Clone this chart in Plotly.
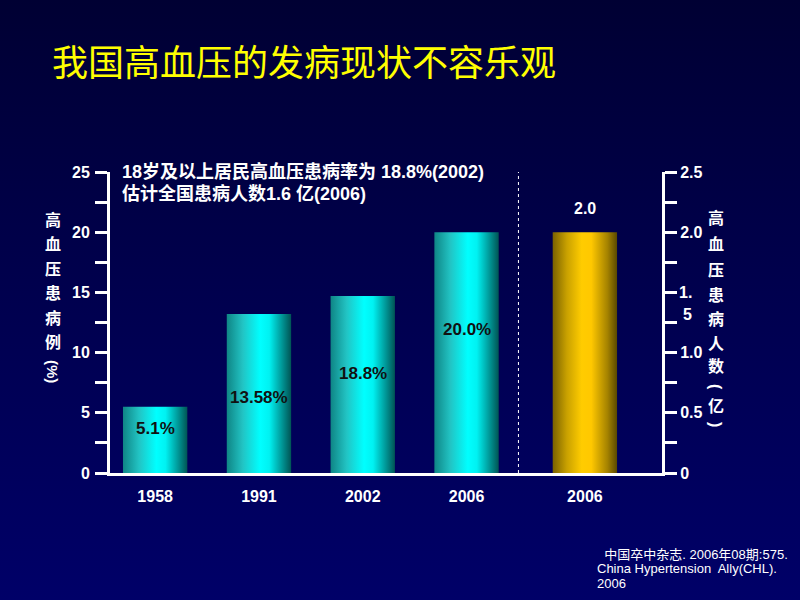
import base64
import plotly.graph_objects as go

# ---------------- data ----------------
categories = ["1958", "1991", "2002", "2006"]
prevalence = [5.5, 13.2, 14.7, 20.0]            # bar heights (%)
prevalence_labels = ["5.1%", "13.58%", "18.8%", "20.0%"]
label_y = [3.7, 6.3, 8.3, 11.95]                 # where the in-bar labels sit (%)
patients_category = ["2006"]
patients = [2.0]                                 # 亿
patients_labels = ["2.0"]

left_ticks = [0, 2.5, 5, 7.5, 10, 12.5, 15, 17.5, 20, 22.5, 25]
left_ticktext = ["0", "", "5", "", "10", "", "15", "", "20", "", "25"]
right_ticks = [0, 0.25, 0.5, 0.75, 1.0, 1.25, 1.5, 1.75, 2.0, 2.25, 2.5]
right_ticktext = ["0", "", "0.5", "", "1.0", "", "", "", "2.0", "", "2.5"]
split_tick_value = 1.5
split_tick_parts = ["1.", "5"]

title_text = "我国高血压的发病现状不容乐观"
note_lines = ["18岁及以上居民高血压患病率为 18.8%(2002)", "估计全国患病人数1.6 亿(2006)"]
left_title_chars = ["高", "血", "压", "患", "病", "例"]
right_title_chars = ["高", "血", "压", "患", "病", "人", "数", "(", "亿", ")"]
right_title_rotated = [False, False, False, False, False, False, False, True, False, True]
source_lines = ["  中国卒中杂志. 2006年08期:575.", "China Hypertension  Ally(CHL).", "2006"]

# ---------------- layout constants ----------------
W, H = 800, 600
ML, MR, MT, MB = 110, 138, 172, 127
PW, PH = W - ML - MR, H - MT - MB
BAR_HALF = 0.31
left_pos = list(range(len(categories)))
right_pos = [4.14]
divider_x = 3.5
x_range = [-0.435, 4.883]

def px(x):
    return (x - ML) / PW

def py(y):
    return (H - MB - y) / PH

teal_scale = [[0, "#0f8585"], [0.25, "#22c4c4"], [0.52, "#00ffff"], [0.66, "#00f2f2"],
              [0.85, "#009a9a"], [1, "#005454"]]
gold_scale = [[0, "#7a6200"], [0.22, "#c9a100"], [0.45, "#ffcc00"], [0.6, "#ffc800"],
              [0.85, "#a58300"], [1, "#5a4800"]]

fig = go.Figure()

def add_bar(xc, val, scale, yaxis):
    xs = [xc - BAR_HALF, xc + BAR_HALF, xc + BAR_HALF, xc - BAR_HALF, xc - BAR_HALF]
    ys = [0, 0, val, val, 0]
    fig.add_trace(go.Scatter(
        x=xs, y=ys, mode="lines", fill="toself", yaxis=yaxis,
        line=dict(width=0, color="rgba(0,0,0,0)"),
        fillgradient=dict(type="horizontal", colorscale=scale),
        hoverinfo="skip", showlegend=False))

for xc, v in zip(left_pos, prevalence):
    add_bar(xc, v, teal_scale, "y")
for xc, v in zip(right_pos, patients):
    add_bar(xc, v, gold_scale, "y2")

annotations = []

def ann(x, y, text, size, color="white", family="Noto Sans CJK SC", bold=True,
        xanchor="center", yanchor="middle", **kw):
    annotations.append(dict(x=x, y=y, xref=kw.pop("xref", "paper"), yref=kw.pop("yref", "paper"),
                            text=text, showarrow=False, xanchor=xanchor, yanchor=yanchor,
                            font=dict(family=family, size=size, color=color,
                                      weight="bold" if bold else "normal"), **kw))

# labels inside teal bars
for xc, ly, t in zip(left_pos, label_y, prevalence_labels):
    ann(xc, ly, t, 17, color="#111111", family="Liberation Sans, Arial", xref="x", yref="y")
# label above gold bar
for xc, v, t in zip(right_pos, patients, patients_labels):
    ann(xc, v, t, 16, family="Liberation Sans, Arial", xref="x", yref="y2",
        yanchor="bottom", yshift=13)

# title
ann(px(50), py(60), title_text, 36, color="#ffff00", bold=False, xanchor="left")
# note text
for i, line in enumerate(note_lines):
    ann(px(120), py(171.5 + i * 21.5), line, 18, family="Liberation Sans, Noto Sans CJK SC",
        xanchor="left")
# left axis title
for i, ch in enumerate(left_title_chars):
    ann(px(53), py(219 + i * 24.4), ch, 16)
ann(px(53), py(371), "(%)", 15, family="Liberation Sans, Arial", textangle=90)
# right axis title
right_y = [217, 243, 269, 294, 318, 342, 365, 387, 405, 424]
for ch, yy, rot in zip(right_title_chars, right_y, right_title_rotated):
    if rot:
        ann(px(716), py(yy), ch, 16, family="Liberation Sans, Arial", textangle=90)
    else:
        ann(px(716), py(yy), ch, 16)
# split tick label 1.5 on right axis
for i, part in enumerate(split_tick_parts):
    ann(px(694), split_tick_value, part, 16, family="Liberation Sans, Arial", xanchor="right",
        yref="y2", yshift=-22 * i)
# source
for i, line in enumerate(source_lines):
    ann(px(595), py(554 + i * 14.8), line, 13, family="Liberation Sans, Noto Sans CJK SC",
        bold=False, xanchor="left")

svg = ("<svg xmlns='http://www.w3.org/2000/svg' width='800' height='600'>"
       "<defs><linearGradient id='g' x1='0' y1='0' x2='0' y2='1'>"
       "<stop offset='0' stop-color='#000033'/><stop offset='0.45' stop-color='#00004c'/>"
       "<stop offset='1' stop-color='#000068'/></linearGradient></defs>"
       "<rect width='800' height='600' fill='url(#g)'/></svg>")
bg_uri = "data:image/svg+xml;base64," + base64.b64encode(svg.encode()).decode()

tickfont = dict(family="Liberation Sans, Arial", size=16, color="white", weight="bold")

fig.update_layout(
    width=W, height=H,
    margin=dict(l=ML, r=MR, t=MT, b=MB),
    paper_bgcolor="#00004c",
    plot_bgcolor="rgba(0,0,0,0)",
    showlegend=False,
    images=[dict(source=bg_uri, xref="paper", yref="paper", x=-ML / PW, y=1 + MT / PH,
                 sizex=W / PW, sizey=H / PH, xanchor="left", yanchor="top",
                 sizing="stretch", layer="below")],
    xaxis=dict(range=x_range, showgrid=False, zeroline=False, showline=True,
               linecolor="white", linewidth=3, ticks="", ticklabelstandoff=7,
               tickvals=left_pos + right_pos, ticktext=categories + patients_category,
               tickfont=tickfont, fixedrange=True),
    yaxis=dict(range=[0, 25], showgrid=False, zeroline=False, showline=True,
               linecolor="white", linewidth=3, ticks="outside", ticklen=12, tickwidth=2.5,
               tickcolor="white", tickvals=left_ticks, ticktext=left_ticktext,
               tickfont=tickfont, ticklabelstandoff=2),
    yaxis2=dict(range=[0, 2.5], overlaying="y", side="right", showgrid=False, zeroline=False,
                showline=True, linecolor="white", linewidth=3, ticks="outside", ticklen=12,
                tickwidth=2.5, tickcolor="white", tickvals=right_ticks, ticktext=right_ticktext,
                tickfont=tickfont, ticklabelstandoff=0),
    shapes=[dict(type="line", xref="x", yref="paper", x0=divider_x, x1=divider_x, y0=0, y1=1,
                 line=dict(color="white", width=1, dash="dot"))],
    annotations=annotations,
)

fig.write_html("out.html")
